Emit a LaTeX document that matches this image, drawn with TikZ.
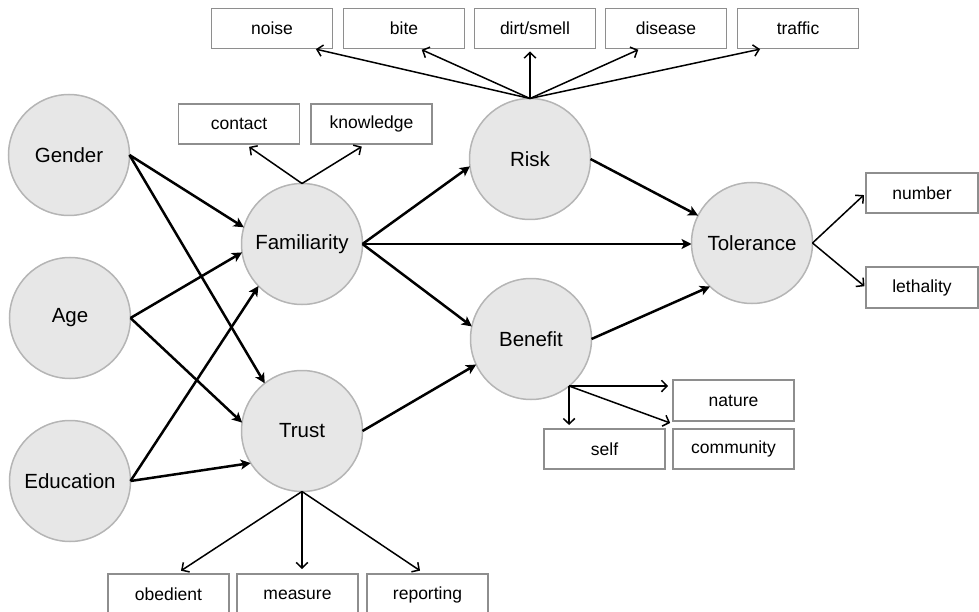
\documentclass[tikz,border=0pt]{standalone}
\usepackage{fontspec}
\setmainfont{Liberation Sans}
\usetikzlibrary{arrows.meta}
\definecolor{circfill}{HTML}{E7E7E7}
\definecolor{circline}{HTML}{B5B5B5}
\definecolor{boxline}{HTML}{8E8E8E}
\begin{document}
\begin{tikzpicture}[x=1pt,y=-1pt,
  circ/.style={circle, draw=circline, fill=circfill, line width=1.5pt, minimum size=121pt, inner sep=0pt, outer sep=0pt, font=\fontsize{20.5}{24}\selectfont},
  box/.style={draw=boxline, line width=1.6pt, minimum width=121pt, minimum height=40pt, inner sep=0pt, outer sep=0pt, font=\fontsize{17.5}{20}\selectfont},
  bigarrow/.style={line width=2.5pt, -{Stealth[length=10pt,width=10pt,inset=2.5pt]}},
  smallarrow/.style={line width=1.5pt, -{Straight Barb[length=5.5pt,width=11.5pt]}}
]
\useasboundingbox (0,0) rectangle (979,612);

% circles
\node[circ] (gender) at (69,155) {Gender};
\node[circ] (age) at (70,318) {Age};
\node[circ] (edu) at (70,481) {Education};
\node[circ] (fam) at (302,244) {Familiarity};
\node[circ] (trust) at (302,431) {Trust};
\node[circ] (risk) at (530,159) {Risk};
\node[circ] (benefit) at (531,339) {Benefit};
\node[circ] (tol) at (752,243) {Tolerance};

% boxes
\node[box] (noise) at (272,28.5) {noise};
\node[box] (bite) at (404,28.5) {bite};
\node[box] (dirt) at (535,28.5) {dirt/smell};
\node[box] (disease) at (666,28.5) {disease};
\node[box] (traffic) at (798,28.5) {traffic};
\node[box] (contact) at (239,124) {contact};
\node[box] (knowledge) at (371.5,124) {knowledge};
\node[box, minimum width=112pt] (number) at (922,193) {number};
\node[box, minimum width=112pt, minimum height=41pt] (lethality) at (922,287.5) {lethality};
\node[box, minimum height=41pt] (nature) at (733.5,400.5) {nature};
\node[box] (self) at (604.5,449) {self};
\node[box] (community) at (733.5,449) {community};
\node[box, minimum height=41pt] (obedient) at (168.5,594.5) {obedient};
\node[box, minimum height=41pt] (measure) at (297.5,594.5) {measure};
\node[box, minimum height=41pt] (reporting) at (427.5,594.5) {reporting};

% main paths
\draw[bigarrow] (gender.east) -- (fam.164);
\draw[bigarrow] (gender.east) -- (trust.128);
\draw[bigarrow] (age.east) -- (fam.188);
\draw[bigarrow] (age.east) -- (trust.172);
\draw[bigarrow] (edu.east) -- (fam.224);
\draw[bigarrow] (edu.east) -- (trust.212);
\draw[bigarrow] (fam.east) -- (risk.187);
\draw[bigarrow] (fam.east) -- (fam.east -| tol.west);
\draw[bigarrow] (fam.east) -- (benefit.168);
\draw[bigarrow] (trust.east) -- (benefit.205);
\draw[bigarrow] (risk.east) -- (tol.153);
\draw[bigarrow] (benefit.east) -- (tol.226);

% indicators
\draw[smallarrow, shorten >=3pt] (risk.north) -- ([xshift=41pt]noise.south);
\draw[smallarrow, shorten >=3pt] (risk.north) -- ([xshift=15pt]bite.south);
\draw[smallarrow, shorten >=3pt] (risk.north) -- (risk.north |- dirt.south);
\draw[smallarrow, shorten >=3pt] (risk.north) -- ([xshift=-25pt]disease.south);
\draw[smallarrow, shorten >=3pt] (risk.north) -- ([xshift=-35pt]traffic.south);

\draw[smallarrow, shorten >=5pt] (fam.north) -- ([xshift=6pt]contact.south);
\draw[smallarrow, shorten >=5pt] (fam.north) -- ([xshift=-5.5pt]knowledge.south);

\draw[smallarrow, shorten >=3pt] (tol.east) -- (number.west);
\draw[smallarrow, shorten >=2pt] (tol.east) -- (lethality.west);

\draw[smallarrow, shorten >=5pt] (benefit.309) -- (benefit.309 -| nature.west);
\draw[smallarrow, shorten >=4pt] (benefit.309) -- (benefit.309 |- self.north);
\draw[smallarrow, shorten >=3pt] (benefit.309) -- ([yshift=5pt]community.north west);

\draw[smallarrow, shorten >=6pt] (trust.south) -- ([xshift=7.5pt]obedient.north);
\draw[smallarrow, shorten >=5pt] (trust.south) -- (trust.south |- measure.north);
\draw[smallarrow, shorten >=6pt] (trust.south) -- ([xshift=-2.5pt]reporting.north);
\end{tikzpicture}
\end{document}
